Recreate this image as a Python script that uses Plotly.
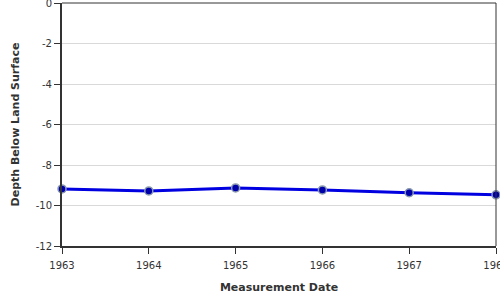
import plotly.graph_objects as go

years = [1963, 1964, 1965, 1966, 1967, 1968]
depth = [-9.18, -9.28, -9.13, -9.23, -9.37, -9.47]
x_ticks = [1963, 1964, 1965, 1966, 1967, 1968]
y_ticks = [0, -2, -4, -6, -8, -10, -12]

fig = go.Figure()
fig.add_trace(go.Scatter(
    x=years, y=depth, mode="lines+markers",
    line=dict(color="#0000e0", width=3),
    marker=dict(size=8, color="#0000aa", line=dict(color="#8a9ab0", width=1.5)),
    cliponaxis=False, showlegend=False,
))

font = "DejaVu Sans, Verdana, sans-serif"
fig.update_layout(
    template="none",
    width=500, height=300,
    margin=dict(l=62, r=4, t=3, b=54),
    paper_bgcolor="white", plot_bgcolor="white",
    font=dict(family=font, size=10, color="#333333"),
    xaxis=dict(
        range=[1963, 1968], tickvals=x_ticks, ticktext=[str(t) for t in x_ticks],
        showgrid=False, zeroline=False, automargin=False,
        showline=True, linecolor="#333333", linewidth=2,
        ticks="outside", ticklen=6, tickcolor="#333333", tickwidth=1,
        ticklabeloverflow="allow", ticklabelstandoff=3,
        tickfont=dict(size=10, color="#333333"),
        title=dict(text="<b>Measurement Date</b>", font=dict(size=11, color="#333333"), standoff=13),
    ),
    yaxis=dict(
        range=[-12, 0], tickvals=y_ticks, ticktext=[str(t) for t in y_ticks],
        showgrid=True, gridcolor="#d9d9d9", gridwidth=1, zeroline=False, automargin=False,
        showline=True, linecolor="#333333", linewidth=2,
        ticks="outside", ticklen=6, tickcolor="#333333", tickwidth=1,
        ticklabeloverflow="allow",
        tickfont=dict(size=10, color="#333333"),
        title=dict(text="<b>Depth Below Land Surface</b>", font=dict(size=11, color="#333333"), standoff=14),
    ),
    shapes=[
        dict(type="line", xref="paper", yref="paper", x0=0, x1=1, y0=1, y1=1,
             line=dict(color="#333333", width=1)),
        dict(type="line", xref="paper", yref="paper", x0=1, x1=1, y0=0, y1=1,
             line=dict(color="#333333", width=1)),
    ],
)

fig.write_html("out.html")
